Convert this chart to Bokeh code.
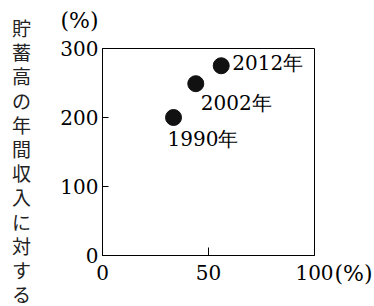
from bokeh.plotting import figure
from bokeh.models import Range1d, FixedTicker, Label, ColumnDataSource, LinearAxis, BoxAnnotation
from bokeh.embed import file_html
from bokeh.resources import INLINE

years = ["1990年", "2002年", "2012年"]
x_vals = [33.5, 44, 56]
y_vals = [200, 249, 275]
x_ticks = [0, 50, 100]
x_tick_labels = ["0", "50", "100"]
y_ticks = [0, 100, 200, 300]
y_tick_labels = ["0", "100", "200", "300"]
y_title = "貯蓄高の年間収入に対する"
unit = "(%)"

SERIF = "DejaVu Serif"
W, H = 374, 306
# frame box of the chart in page pixels
L, R, T, B = 102, 314, 48, 255
sx = (R - L) / 100.0
sy = (B - T) / 300.0

p = figure(width=W, height=H, output_backend="svg", toolbar_location=None,
           x_range=Range1d(-L / sx, (W - L) / sx), y_range=Range1d(-(H - B) / sy, B / sy),
           x_axis_location=None, y_axis_location=None,
           min_border=0, min_border_left=0, min_border_right=0, min_border_top=0, min_border_bottom=0)
p.grid.visible = False
p.outline_line_color = None
p.background_fill_color = "white"
p.border_fill_color = "white"

xa = LinearAxis(fixed_location=0, bounds=(x_ticks[0], x_ticks[-1]))
ya = LinearAxis(fixed_location=0, bounds=(y_ticks[0], y_ticks[-1]))
p.add_layout(xa, "below")
p.add_layout(ya, "left")
for ax, ticks, labels, tin, so in ((xa, x_ticks, x_tick_labels, 8, 9), (ya, y_ticks, y_tick_labels, 6, 4)):
    ax.ticker = FixedTicker(ticks=ticks)
    ax.major_label_overrides = {t: l for t, l in zip(ticks, labels)}
    ax.major_tick_in = tin
    ax.major_tick_out = 0
    ax.minor_tick_line_color = None
    ax.axis_line_color = "black"
    ax.major_tick_line_color = "black"
    ax.major_label_text_font = SERIF
    ax.major_label_text_font_size = "20px"
    ax.major_label_text_color = "black"
    ax.major_label_standoff = so

p.add_layout(BoxAnnotation(left=x_ticks[0], right=x_ticks[-1], bottom=y_ticks[0], top=y_ticks[-1],
                           fill_alpha=0, line_color="black", line_alpha=1, line_width=1))

src = ColumnDataSource(dict(x=x_vals, y=y_vals, label=years,
                            dx=[-6, 5, 11], dy=[21, 19, -3]))
p.scatter("x", "y", source=src, size=16, fill_color="#111111", line_color="#111111")
p.text("x", "y", text="label", source=src, x_offset="dx", y_offset="dy",
       text_font={"value": SERIF}, text_font_size="20px", text_align="left",
       text_baseline="middle", text_color="black")

def dx(px):
    return (px - L) / sx
def dy(py):
    return (B - py) / sy

p.add_layout(Label(x=dx(98), y=dy(20), text=unit, text_font=SERIF, text_font_size="22px",
                   text_align="right", text_baseline="middle", text_color="black"))
p.add_layout(Label(x=dx(334), y=dy(273), text=unit, text_font=SERIF, text_font_size="22px",
                   text_align="left", text_baseline="middle", text_color="black"))
for i, ch in enumerate(y_title):
    p.add_layout(Label(x=dx(21), y=dy(27 + i * 24.2), text=ch, text_font="Noto Sans CJK JP",
                       text_font_size="19px", text_align="center", text_baseline="middle",
                       text_color="#222222"))

open("out.html", "w").write(file_html(p, INLINE))
